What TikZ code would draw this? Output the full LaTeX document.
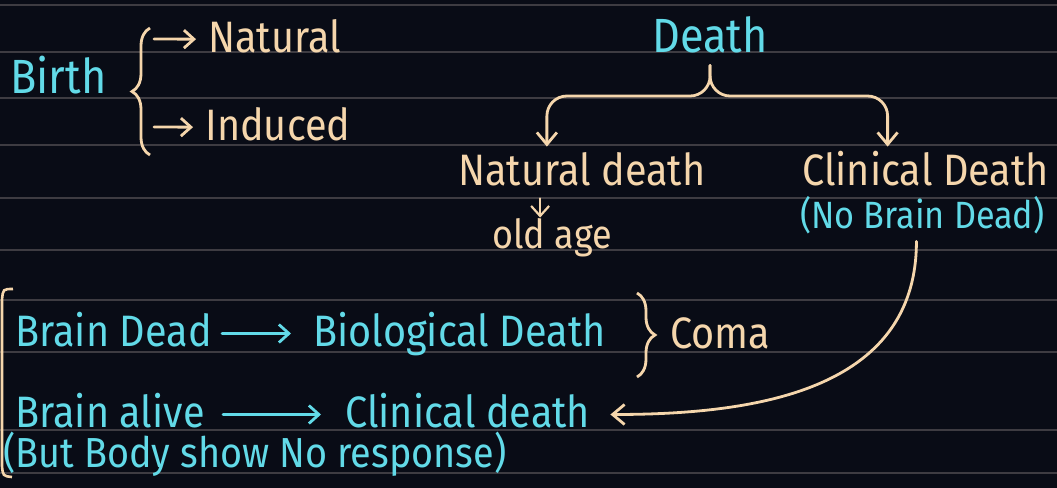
\documentclass[tikz,border=0pt]{standalone}
\usepackage{xcolor}
\usepackage{fontspec}
\setmainfont{Fira Sans}[FakeStretch=0.9]
\usepackage{tikz}
\usetikzlibrary{arrows.meta,decorations.pathreplacing}

\definecolor{ink}{RGB}{98,218,232}
\definecolor{chalk}{RGB}{245,214,172}
\definecolor{board}{RGB}{9,12,22}
\definecolor{ruled}{RGB}{62,60,66}

\begin{document}
\begin{tikzpicture}[>={Straight Barb[length=6pt,width=10pt]}, x=0.5pt, y=-0.5pt]
  % Styles
  \tikzstyle{txt}=[inner sep=2pt, anchor=base west, text height=17pt, text depth=4.5pt, font=\fontsize{22}{26}\selectfont]
  \tikzstyle{term}=[txt, text=ink]
  \tikzstyle{note}=[txt, text=chalk]
  \tikzstyle{big}=[font=\fontsize{24}{28}\selectfont]
  \tikzstyle{aside}=[font=\fontsize{20}{24}\selectfont]
  \tikzstyle{link}=[->, draw=chalk, line width=1.4pt, line cap=round]
  \tikzstyle{inline}=[-{Straight Barb[length=5pt,width=9pt]}, line width=1.4pt, line cap=round, shorten <=3pt, shorten >=9pt]
  \tikzstyle{curly}=[draw=chalk, line width=1.4pt, decorate, decoration={brace, amplitude=9pt}]

  % Board
  \path[use as bounding box, fill=board] (0,0) rectangle (1057,488);
  \foreach \y in {5,52,98,145,198,250,300,352,430,473}
    \draw[ruled, line width=0.6pt] (0,\y) -- (1057,\y);

  % Birth
  \node[term, big] (birth) at (6,93) {Birth};
  \draw[curly] (150,155) -- (150,28);
  \coordinate (b_up) at (154,39);
  \coordinate (b_dn) at (154,127);
  \node[note] (b_nat) at (204,52) {Natural};
  \node[note] (b_ind) at (201,140) {Induced};
  \draw[inline, draw=chalk, shorten <=0pt, shorten >=4pt] (b_up) -- (b_nat);
  \draw[inline, draw=chalk, shorten <=0pt, shorten >=4pt] (b_dn) -- (b_ind);

  % Death
  \node[term, big] (death) at (648,52) {Death};
  \node[note] (d_nat) at (454,185) {Natural death};
  \node[note] (d_clin) at (798,185) {Clinical Death};
  \node[term, font=\fontsize{19}{23}\selectfont] (d_nobd) at (796,228) {(No Brain Dead)};
  \node[note, aside] (d_old) at (488,248) {old age};
  \coordinate (d_split) at (death.south |- 0,96);
  \draw[link, rounded corners=10pt] (death.south) -- (d_split) -| ([xshift=-17.5pt]d_nat.north);
  \draw[link, rounded corners=10pt] (death.south) -- (d_split) -| ([xshift=-19pt]d_clin.north);
  \draw[inline, draw=chalk, line width=1.1pt, shorten <=0pt, shorten >=-4pt] ([xshift=-6pt]d_old.north |- d_nat.south) -- ([xshift=-6pt]d_old.north);

  % Coma
  \node[term] (bd) at (11,346) {Brain Dead};
  \node[term] (bio) at (309,346) {Biological Death};
  \draw[inline, draw=ink] (bd) -- (bio);
  \draw[curly] (637,293) -- (637,377);
  \node[note] (coma) at (666,348) {Coma};
  \draw[chalk, line width=1.3pt] (13,289) .. controls (3,289) .. (2,300) -- (2,466) .. controls (3,476) .. (12,477);

  \node[term] (ba) at (11,427) {Brain alive};
  \node[term] (cd) at (341,427) {Clinical death};
  \node[term, font=\fontsize{21}{25}\selectfont] (bbody) at (-1,467) {(But Body show No response)};
  \draw[inline, draw=ink, shorten <=7pt, shorten >=10pt] (ba) -- (cd);
  \draw[link, shorten >=8pt] ([xshift=-3pt]d_nobd.south) .. controls +(0,150) and +(160,0) .. (cd.east);
\end{tikzpicture}
\end{document}
